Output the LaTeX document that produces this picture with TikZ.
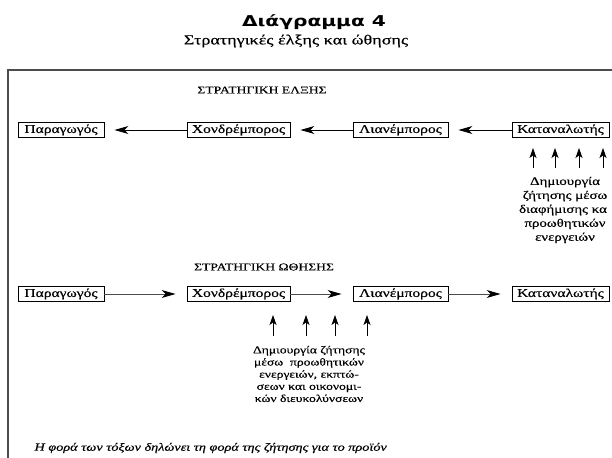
\documentclass[tikz,border=0pt]{standalone}
\usepackage{fontspec}
\newfontfamily\grk{Liberation Serif}[FakeStretch=1.3, FakeBold=0.4]
\newfontfamily\hdr{DejaVu Sans}[FakeStretch=1.35]
\usetikzlibrary{arrows.meta}
\tikzset{
        x=1bp, y=-1bp,
        agent/.style={draw=black, line width=0.9bp, inner sep=0pt, minimum height=15bp, font=\grk\fontsize{12}{14}\selectfont},
        sect/.style={font=\grk\fontsize{10.5}{12}\selectfont},
        note/.style={align=center, inner sep=0pt, font=\grk\fontsize{11.5}{14}\selectfont},
        smallnote/.style={align=center, inner sep=0pt, font=\grk\fontsize{10.5}{12.2}\selectfont},
        pullarrow/.style={draw=black, line width=0.9bp, -{Stealth[length=14bp, width=8bp, inset=4bp]}, shorten >=10bp},
        pusharrow/.style={draw=black!70, line width=0.9bp, -{Stealth[length=14bp, width=8bp, inset=4bp, fill=black, color=black]}, shorten >=11bp},
        uparrow/.style={draw=black, line width=0.9bp, -{Stealth[length=10bp, width=7bp, inset=2.5bp]}},
        frame/.style={draw=black!70, line width=1.2bp}
          }
\begin{document}
\begin{tikzpicture}
            \useasboundingbox (0,0) rectangle (612,458);
            \clip (0,0) rectangle (612,458);
            \node[font=\hdr\bfseries\fontsize{15}{17}\selectfont] (title) at (314,22) {Διάγραμμα 4};
            \node[font=\grk\fontsize{14}{16}\selectfont] (subtitle) at (296,41) {Στρατηγικές έλξης και ώθησης};
            \draw[frame] (8,70) rectangle (660,500);

            % pull strategy
            \node[sect] (pulltitle) at (262,90) {ΣΤΡΑΤΗΓΙΚΗ ΕΛΞΗΣ};
            \node[agent, minimum width=86bp] (pr1) at (61,130) {Παραγωγός};
            \node[agent, minimum width=103bp] (wh1) at (238.5,130) {Χονδρέμπορος};
            \node[agent, minimum width=95bp] (re1) at (400.5,130) {Λιανέμπορος};
            \node[agent, minimum width=97bp] (co1) at (560.5,130) {Καταναλωτής};
            \draw[pullarrow] (wh1) -- (pr1);
            \draw[pullarrow] (re1) -- (wh1);
            \draw[pullarrow] (co1) -- (re1);
            \foreach \x [count=\i] in {533,555,579,603} {
              \coordinate (pullb\i) at (\x,168);
              \coordinate (pullt\i) at (\x,148);
              \draw[uparrow] (pullb\i) -- (pullt\i);
            }
            \node[note] (pulltxt) at (565,210) {Δημιουργία\\ζήτησης μέσω\\διαφήμισης κα\phantom{ι}\\προωθητικών\\ενεργειών};

            % push strategy
            \node[sect] (pushtitle) at (264,267) {ΣΤΡΑΤΗΓΙΚΗ ΩΘΗΣΗΣ};
            \node[agent, minimum width=86bp] (pr2) at (61,294) {Παραγωγός};
            \node[agent, minimum width=103bp] (wh2) at (238.5,294) {Χονδρέμπορος};
            \node[agent, minimum width=95bp] (re2) at (400.5,294) {Λιανέμπορος};
            \node[agent, minimum width=97bp] (co2) at (560.5,294) {Καταναλωτής};
            \draw[pusharrow] (pr2) -- (wh2);
            \draw[pusharrow] (wh2) -- (re2);
            \draw[pusharrow] (re2) -- (co2);
            \foreach \x [count=\i] in {273,306,335,367} {
              \coordinate (pushb\i) at (\x,336);
              \coordinate (pusht\i) at (\x,315);
              \draw[uparrow] (pushb\i) -- (pusht\i);
            }
            \node[smallnote] (pushtxt) at (309,374) {Δημιουργία ζήτησης\\μέσω\ \ προωθητικών\\ενεργειών, εκπτώ-\\σεων και οικονομι-\\κών διευκολύνσεων};

            \node[anchor=west, font=\grk\itshape\fontsize{11}{12}\selectfont] (footer) at (31,448) {Η φορά των τόξων δηλώνει τη φορά της ζήτησης για το προϊόν};
          \end{tikzpicture}
\end{document}
